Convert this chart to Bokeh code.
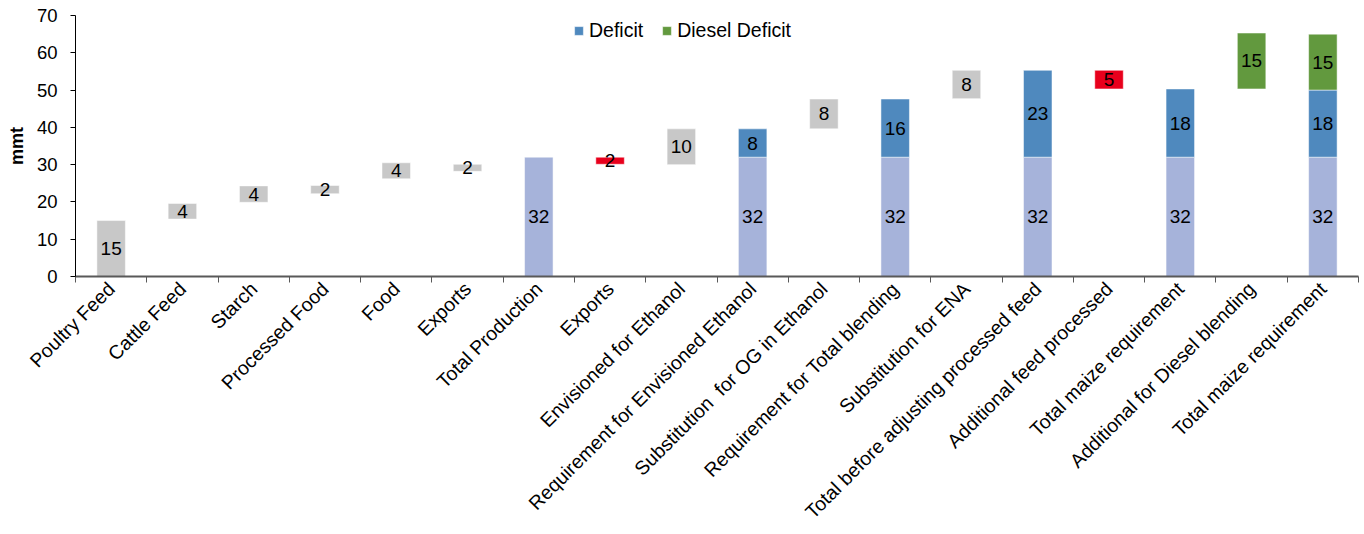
import math

from bokeh.core.properties import value
from bokeh.embed import file_html
from bokeh.models import (ColumnDataSource, CustomJSTickFormatter, FixedTicker,
                          Legend, LegendItem, Range1d)
from bokeh.plotting import figure
from bokeh.resources import INLINE

# ---- data (million metric tonnes) ----
categories = [
    "Poultry Feed", "Cattle Feed", "Starch", "Processed Food", "Food", "Exports",
    "Total Production", "Exports", "Envisioned for Ethanol",
    "Requirement for Envisioned Ethanol", "Substitution\u00a0 for OG in Ethanol",
    "Requirement for Total blending", "Substitution for ENA",
    "Total before adjusting processed feed", "Additional feed processed",
    "Total maize requirement", "Additional for Diesel blending",
    "Total maize requirement",
]

# floating (waterfall) steps: lower and upper end, and their kind
float_low = [0.0, 15.4, 19.9, 22.2, 26.2, 28.2, None, 30.1, 30.0, None,
             39.6, None, 47.7, None, 50.3, None, 50.3, None]
float_high = [15.0, 19.6, 24.3, 24.4, 30.5, 30.1, None, 32.0, 39.6, None,
              47.6, None, 55.3, None, 55.3, None, 65.3, None]
float_kind = ["use", "use", "use", "use", "use", "use", None, "less", "use", None,
              "use", None, "use", None, "less", None, "diesel", None]

# stacked totals
production = [0, 0, 0, 0, 0, 0, 32.0, 0, 0, 32.0, 0, 32.0, 0, 32.0, 0, 32.0, 0, 32.0]
deficit = [0, 0, 0, 0, 0, 0, 0, 0, 0, 7.6, 0, 15.6, 0, 23.3, 0, 18.3, 0, 18.0]
diesel_deficit = [0] * 17 + [15.0]

y_ticks = [0, 10, 20, 30, 40, 50, 60, 70]

# ---- styling ----
FONT = "Liberation Sans"
KIND_COLORS = {"use": "#C8C8C8", "less": "#E8001C", "diesel": "#62993E"}
PROD_COLOR = "#A6B3DA"
DEFICIT_COLOR = "#4F89BE"
DIESEL_COLOR = "#62993E"
BAR_W = 0.4

n = len(categories)
centers = [i + 0.5 for i in range(n)]

p = figure(width=1364, height=534, output_backend="svg", toolbar_location=None,
           x_range=Range1d(0, n), y_range=Range1d(0, 70),
           min_border_left=75, min_border_right=6, min_border_top=15,
           min_border_bottom=258)
p.outline_line_color = None
p.xgrid.visible = False
p.ygrid.visible = False
p.background_fill_color = "white"
p.border_fill_color = "white"

# floating steps
fs = {"x": [], "bottom": [], "top": [], "color": []}
for i, (lo, hi, kind) in enumerate(zip(float_low, float_high, float_kind)):
    if kind is None:
        continue
    fs["x"].append(centers[i])
    fs["bottom"].append(lo)
    fs["top"].append(hi)
    fs["color"].append(KIND_COLORS[kind])
p.vbar(x="x", bottom="bottom", top="top", width=BAR_W, fill_color="color",
       line_color="white", line_alpha=0.5, line_width=1,
       source=ColumnDataSource(fs))


def stacked(vals, bases):
    d = {"x": [], "bottom": [], "top": []}
    for i, (v, b) in enumerate(zip(vals, bases)):
        if v:
            d["x"].append(centers[i])
            d["bottom"].append(b)
            d["top"].append(b + v)
    return d


zeros = [0] * n
prod_src = stacked(production, zeros)
def_src = stacked(deficit, production)
dsl_base = [a + b for a, b in zip(production, deficit)]
dsl_src = stacked(diesel_deficit, dsl_base)

p.vbar(x="x", bottom="bottom", top="top", width=BAR_W, fill_color=PROD_COLOR,
       line_color="white", line_alpha=0.5, line_width=1,
       source=ColumnDataSource(prod_src))
r_def = p.vbar(x="x", bottom="bottom", top="top", width=BAR_W,
               fill_color=DEFICIT_COLOR, line_color="white", line_alpha=0.5,
               line_width=1, source=ColumnDataSource(def_src))
r_dsl = p.vbar(x="x", bottom="bottom", top="top", width=BAR_W,
               fill_color=DIESEL_COLOR, line_color="white", line_alpha=0.5,
               line_width=1, source=ColumnDataSource(dsl_src))

# value labels centred in every segment
lab = {"x": [], "y": [], "text": []}
for src in (fs, prod_src, def_src, dsl_src):
    for x, b, t in zip(src["x"], src["bottom"], src["top"]):
        lab["x"].append(x)
        lab["y"].append((b + t) / 2)
        lab["text"].append(f"{t - b:.0f}")
p.text(x="x", y="y", text="text", source=ColumnDataSource(lab),
       text_align="center", text_baseline="middle",
       text_font=value(FONT), text_font_size="19px", text_color="black")

# legend
legend = Legend(items=[LegendItem(label="Deficit", renderers=[r_def]),
                       LegendItem(label="Diesel Deficit", renderers=[r_dsl])],
                orientation="horizontal", location=(498, 234),
                glyph_width=11, glyph_height=11, label_standoff=5, spacing=18,
                padding=0, margin=0, border_line_color=None,
                background_fill_alpha=0, label_text_font=FONT,
                label_text_font_size="19.5px", label_text_color="black")
p.add_layout(legend, "center")

# x axis: labels at category centres, tick marks at boundaries
xa = p.xaxis[0]
xa.ticker = FixedTicker(ticks=centers, minor_ticks=list(range(n + 1)))
xa.formatter = CustomJSTickFormatter(args=dict(labels=categories),
                                     code="return labels[Math.floor(tick)];")
xa.major_label_orientation = math.pi / 4
xa.major_tick_out = 0
xa.major_tick_in = 0
xa.minor_tick_out = 6
xa.minor_tick_in = 0
xa.minor_tick_line_color = "#595959"
xa.minor_tick_line_width = 1
xa.axis_line_color = "#595959"
xa.axis_line_width = 2
xa.major_label_standoff = 3
xa.major_label_text_font = FONT
xa.major_label_text_font_size = "19.5px"
xa.major_label_text_color = "black"

ya = p.yaxis[0]
ya.ticker = FixedTicker(ticks=y_ticks)
ya.major_tick_out = 5
ya.major_tick_in = 0
ya.minor_tick_out = 0
ya.minor_tick_in = 0
ya.axis_line_color = "black"
ya.major_tick_line_color = "black"
ya.major_label_standoff = 13
ya.major_label_text_font = FONT
ya.major_label_text_font_size = "18.5px"
ya.major_label_text_color = "black"
ya.axis_label = "mmt"
ya.axis_label_text_font = FONT
ya.axis_label_text_font_size = "18px"
ya.axis_label_text_font_style = "bold"
ya.axis_label_text_color = "black"
ya.axis_label_standoff = 7

open("out.html", "w").write(file_html(p, INLINE))
